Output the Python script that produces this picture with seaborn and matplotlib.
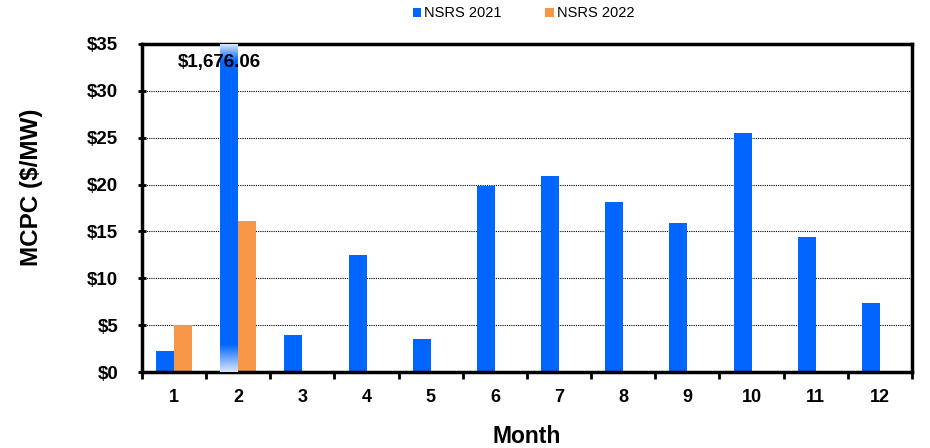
import numpy as np
import pandas as pd
import seaborn as sns
import matplotlib.pyplot as plt
from matplotlib.colors import LinearSegmentedColormap
from matplotlib.ticker import FuncFormatter, FixedLocator

months = [1, 2, 3, 4, 5, 6, 7, 8, 9, 10, 11, 12]
nsrs_2021 = [2.2, 1676.06, 3.9, 12.5, 3.5, 19.85, 20.9, 18.1, 15.9, 25.5, 14.4, 7.35]
nsrs_2022 = [5.05, 16.1]
y_max = 35

rows = [{'Month': m, 'Value': v, 'Year': 'NSRS 2021'} for m, v in zip(months, nsrs_2021)]
rows += [{'Month': m, 'Value': v, 'Year': 'NSRS 2022'} for m, v in zip(months, nsrs_2022)]
df = pd.DataFrame(rows)

blue = '#0066FF'
orange = '#F79646'

sns.set_style('white')
plt.rcParams['font.family'] = ['Liberation Sans', 'DejaVu Sans']
for k in ['text.color', 'axes.labelcolor', 'xtick.color', 'ytick.color']:
    plt.rcParams[k] = 'black'

fig = plt.figure(figsize=(9.3, 4.48), dpi=100)
ax = fig.add_axes([0.1527, 0.1696, 0.8279, 0.7322])

sns.barplot(data=df, x='Month', y='Value', hue='Year', order=months,
            hue_order=['NSRS 2021', 'NSRS 2022'], palette=[blue, orange],
            width=0.56, dodge=True, errorbar=None, saturation=1, ax=ax,
            linewidth=0)

# broken bar for month 2 (value far above the axis)
big = ax.patches[1]
bx0, bw = big.get_x(), big.get_width()
cmap = LinearSegmentedColormap.from_list('fade', ['#D8E6FF', blue])
grad = np.linspace(0, 1, 64).reshape(-1, 1)
ax.imshow(grad, extent=(bx0, bx0 + bw, 0, 2.9), origin='lower', cmap=cmap,
          aspect='auto', zorder=3)
ax.imshow(grad, extent=(bx0, bx0 + bw, y_max - 1.8, y_max), origin='upper', cmap=cmap,
          aspect='auto', zorder=3)
ax.set_xlim(-0.5, 11.5)
ax.set_ylim(0, y_max)
ax.text(bx0 + bw / 2 - 0.15, 33.0, '$1,676.06', ha='center', va='center',
        fontsize=13.5, fontweight='bold', zorder=5)

ax.set_yticks(range(0, 36, 5))
ax.yaxis.set_major_formatter(FuncFormatter(lambda v, p: f'${int(v)}'))
for yv in range(5, 35, 5):
    ax.axhline(yv, color='black', linestyle=(0, (1, 1)), linewidth=0.8, zorder=0)

ax.xaxis.set_minor_locator(FixedLocator(np.arange(-0.5, 12, 1)))
ax.tick_params(axis='x', which='major', length=0, pad=12, labelsize=13)
ax.tick_params(axis='x', which='minor', length=5, width=2, direction='out', bottom=True)
ax.tick_params(axis='y', which='major', length=6, width=2, direction='inout', left=True,
               labelsize=13.5, pad=14)
for lab in ax.get_xticklabels() + ax.get_yticklabels():
    lab.set_fontweight('bold')

for s in ax.spines.values():
    s.set_linewidth(2.5)
    s.set_color('black')

ax.set_xlabel('Month', fontsize=16.5, fontweight='bold', labelpad=14)
ax.set_ylabel('MCPC ($/MW)', fontsize=17.5, fontweight='bold', va='center')
ax.yaxis.set_label_coords(-0.143, 0.564)

handles, labels = ax.get_legend_handles_labels()
ax.get_legend().remove()
fig.legend(handles, labels, loc='upper center', bbox_to_anchor=(0.563, 1.015), ncol=2,
           frameon=False, fontsize=10.5, handlelength=0.6, handleheight=0.6,
           handletextpad=0.2, columnspacing=3.0)

plt.savefig('out.png', dpi=100)
